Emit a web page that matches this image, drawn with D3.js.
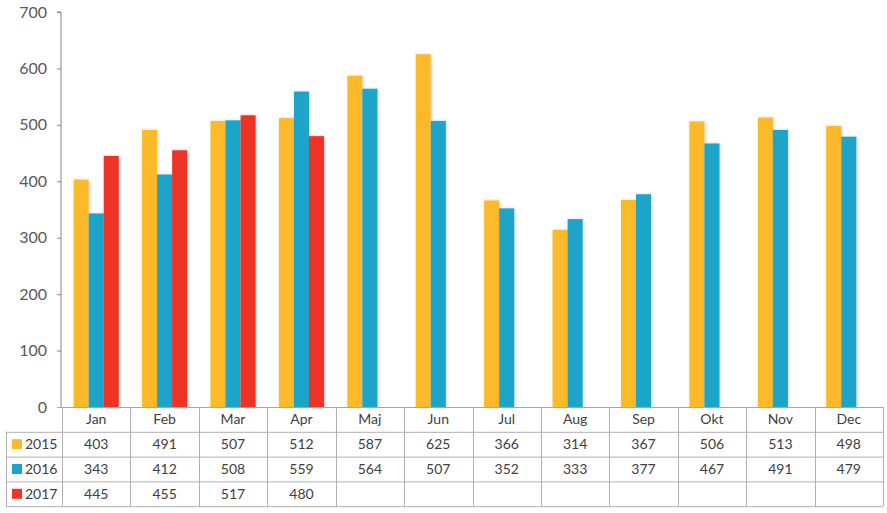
<!DOCTYPE html>
<html><head><meta charset="utf-8">
<script src="https://cdn.jsdelivr.net/npm/d3@7"></script>
<style>body{margin:0;background:#fff}svg{display:block}text{font-family:Lato,"Open Sans",sans-serif}</style>
</head><body><svg id="c" width="887" height="513"></svg>
<script>
const months = ["Jan","Feb","Mar","Apr","Maj","Jun","Jul","Aug","Sep","Okt","Nov","Dec"];
const seriesNames = ["2015","2016","2017"];
const v2015 = [403,491,507,512,587,625,366,314,367,506,513,498];
const v2016 = [343,412,508,559,564,507,352,333,377,467,491,479];
const v2017 = [445,455,517,480,null,null,null,null,null,null,null,null];
const yTicks = [0,100,200,300,400,500,600,700];
const colors = ["#FCB92C","#1CA4C9","#EE3328"];
const series = [v2015,v2016,v2017];

const svg = d3.select("#c");
const L = 62, R = 883, T = 12, B = 407;
const x = d3.scaleBand().domain(months).range([L,R]).paddingInner(0).paddingOuter(0);
const y = d3.scaleLinear().domain([0,700]).range([B,T]);
const bw = x.bandwidth()*0.22;
const x1 = d3.scaleBand().domain(seriesNames).range([0,bw*3]);

const defs = svg.append("defs");
const f = defs.append("filter").attr("id","sh").attr("x","-30%").attr("y","-10%").attr("width","160%").attr("height","120%");
f.append("feDropShadow").attr("dx",1).attr("dy",0).attr("stdDeviation",1.5).attr("flood-color","#000").attr("flood-opacity",0.18);

// y axis
const yAxis = d3.axisLeft(y).tickValues(yTicks).tickSize(4).tickPadding(10);
const ga = svg.append("g").attr("transform",`translate(${L-1},0)`).call(yAxis);
ga.select(".domain").attr("stroke","#868686").attr("d",`M-4,${T}H0V${B}`);
ga.selectAll(".tick line").attr("stroke","#868686");
ga.selectAll(".tick text").attr("fill","#595959").style("font-size","16px").style("font-family","Lato,'Open Sans',sans-serif");

// bars
const g = svg.append("g");
series.forEach((s,i)=>{
  g.selectAll(null).data(months.map((m,j)=>({m,v:s[j]})).filter(d=>d.v!=null)).enter().append("rect")
    .attr("x",d=>x(d.m)+(x.bandwidth()-bw*3)/2+x1(seriesNames[i]))
    .attr("y",d=>y(d.v)).attr("width",x1.bandwidth()).attr("height",d=>B-y(d.v))
    .attr("fill",colors[i]).attr("filter","url(#sh)");
});

// axis line
svg.append("line").attr("x1",L-5).attr("x2",R).attr("y1",B+0.5).attr("y2",B+0.5).attr("stroke","#a6a6a6");

// table
const rowH = 24.8;
const tLeft = 6;
const lc = "#b0b0b0";
const tg = svg.append("g");
// horizontal lines
[1,2,3,4].forEach(r=>{
  tg.append("line").attr("x1",r===1||r===4?tLeft:tLeft).attr("x2",R).attr("y1",B+r*rowH+0.5).attr("y2",B+r*rowH+0.5).attr("stroke",lc);
});
// vertical lines
months.forEach((m,j)=>{
  tg.append("line").attr("x1",Math.round(x(m))+0.5).attr("x2",Math.round(x(m))+0.5).attr("y1",B).attr("y2",B+4*rowH).attr("stroke",lc);
});
tg.append("line").attr("x1",R+0.5).attr("x2",R+0.5).attr("y1",B).attr("y2",B+4*rowH).attr("stroke",lc);
tg.append("line").attr("x1",tLeft+0.5).attr("x2",tLeft+0.5).attr("y1",B+rowH).attr("y2",B+4*rowH).attr("stroke",lc);

// header
tg.selectAll(null).data(months).enter().append("text")
  .attr("x",d=>x(d)+x.bandwidth()/2).attr("y",B+rowH/2+5).attr("text-anchor","middle")
  .attr("fill","#404040").style("font-size","14px").text(d=>d);
// rows
series.forEach((s,i)=>{
  const yy = B+(i+1)*rowH;
  tg.append("rect").attr("x",12).attr("y",yy+rowH/2-5).attr("width",10).attr("height",10).attr("fill",colors[i]);
  tg.append("text").attr("x",25).attr("y",yy+rowH/2+5).attr("fill","#404040").style("font-size","14px").text(seriesNames[i]);
  tg.selectAll(null).data(months.map((m,j)=>({m,v:s[j]})).filter(d=>d.v!=null)).enter().append("text")
    .attr("x",d=>x(d.m)+x.bandwidth()/2).attr("y",yy+rowH/2+5).attr("text-anchor","middle")
    .attr("fill","#404040").style("font-size","14px").text(d=>d.v);
});
</script></body></html>
